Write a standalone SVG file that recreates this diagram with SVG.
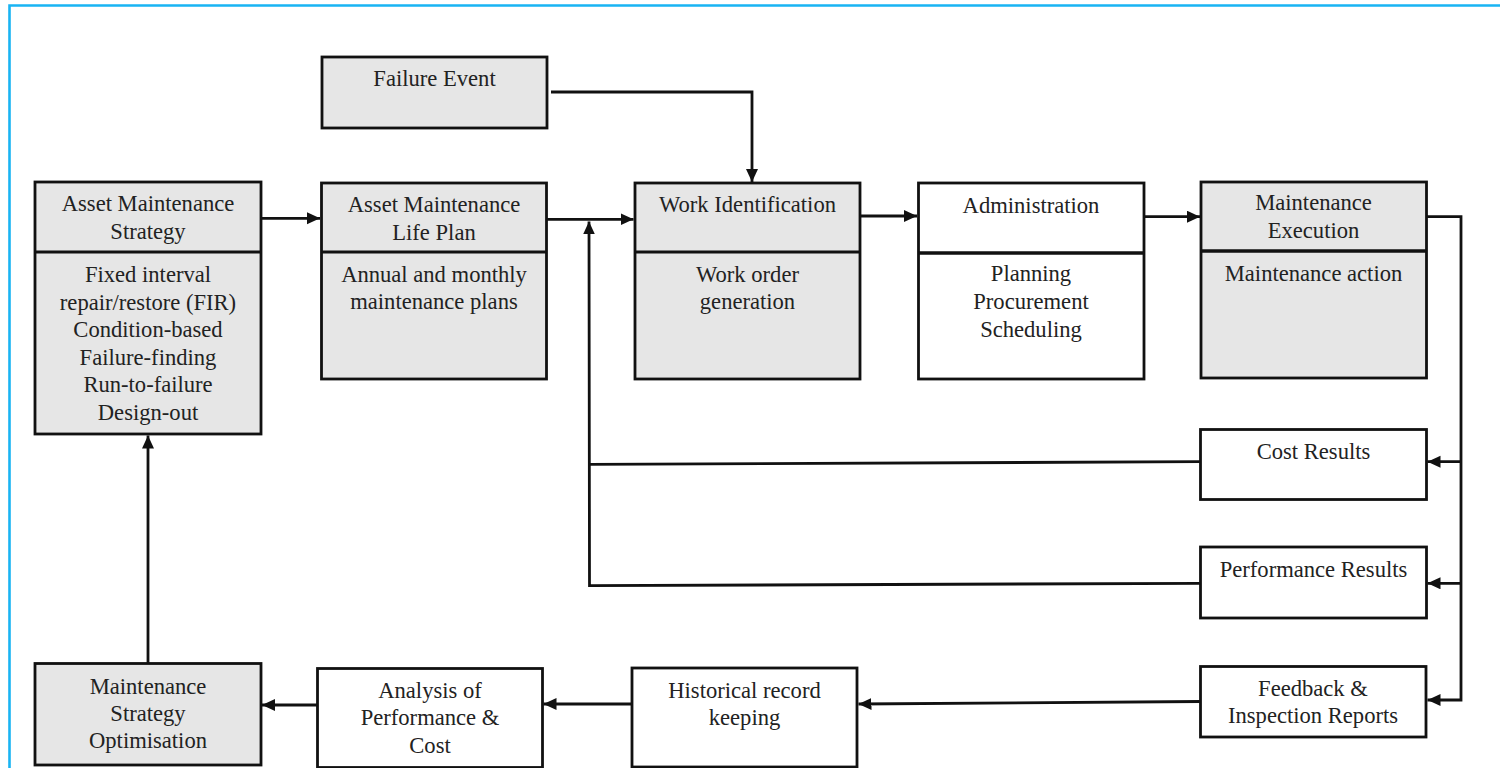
<svg xmlns="http://www.w3.org/2000/svg" width="1500" height="768" viewBox="0 0 1500 768">
<style>
.box{stroke:#111;stroke-width:2.8;}
.g{fill:#e6e6e6;}
.w{fill:#ffffff;}
.div{stroke:#111;stroke-width:3;fill:none;}
.t{font-family:"Liberation Serif","Times New Roman",serif;font-size:22.6px;fill:#222;text-anchor:middle;}
.c{fill:none;stroke:#111;stroke-width:2.8;}
.frame{stroke:#19b4f3;stroke-width:2.6;fill:none;}
</style>
<defs>
<marker id="ah" markerUnits="userSpaceOnUse" markerWidth="15" markerHeight="13" refX="13" refY="6" orient="auto">
<path d="M0,0 L13,6 L0,12 z" fill="#111"/>
</marker>
</defs>
<rect x="0" y="0" width="1500" height="768" fill="#ffffff"/>
<path class="frame" d="M9.5,768 V5.5 H1500"/>

<g id="failure-event">
<rect class="box g" x="322" y="57" width="225" height="71"/>
<text class="t" x="434.5" y="86">Failure Event</text>
</g>

<g id="asset-maintenance-strategy">
<rect class="box g" x="35" y="182" width="226" height="252"/>
<line class="div" x1="35" y1="252" x2="261" y2="252"/>
<text class="t" x="148" y="211">Asset Maintenance</text>
<text class="t" x="148" y="239">Strategy</text>
<text class="t" x="148" y="282">Fixed interval</text>
<text class="t" x="148" y="309.5">repair/restore (FIR)</text>
<text class="t" x="148" y="337">Condition-based</text>
<text class="t" x="148" y="364.5">Failure-finding</text>
<text class="t" x="148" y="392">Run-to-failure</text>
<text class="t" x="148" y="419.5">Design-out</text>
</g>

<g id="asset-maintenance-life-plan">
<rect class="box g" x="321.5" y="183" width="225" height="196"/>
<line class="div" x1="321.5" y1="252" x2="546.5" y2="252"/>
<text class="t" x="434" y="212">Asset Maintenance</text>
<text class="t" x="434" y="240">Life Plan</text>
<text class="t" x="434" y="281.5">Annual and monthly</text>
<text class="t" x="434" y="309">maintenance plans</text>
</g>

<g id="work-identification">
<rect class="box g" x="635" y="183" width="225" height="196"/>
<line class="div" x1="635" y1="252" x2="860" y2="252"/>
<text class="t" x="747.5" y="211.5">Work Identification</text>
<text class="t" x="747.5" y="281.5">Work order</text>
<text class="t" x="747.5" y="309">generation</text>
</g>

<g id="administration">
<rect class="box w" x="918.5" y="183" width="225.5" height="196"/>
<line class="div" x1="918.5" y1="253" x2="1144" y2="253" style="stroke-width:3.6"/>
<text class="t" x="1031" y="213">Administration</text>
<text class="t" x="1031" y="281">Planning</text>
<text class="t" x="1031" y="308.5">Procurement</text>
<text class="t" x="1031" y="336.5">Scheduling</text>
</g>

<g id="maintenance-execution">
<rect class="box g" x="1201" y="182" width="225.5" height="196"/>
<line class="div" x1="1201" y1="251" x2="1426.5" y2="251" style="stroke-width:3.4"/>
<text class="t" x="1313.5" y="210">Maintenance</text>
<text class="t" x="1313.5" y="238">Execution</text>
<text class="t" x="1313.5" y="280.5">Maintenance action</text>
</g>

<g id="cost-results">
<rect class="box w" x="1200.5" y="429.5" width="226" height="70"/>
<text class="t" x="1313.5" y="459">Cost Results</text>
</g>

<g id="performance-results">
<rect class="box w" x="1200.5" y="547" width="226" height="71"/>
<text class="t" x="1313.5" y="576.5">Performance Results</text>
</g>

<g id="feedback-inspection-reports">
<rect class="box w" x="1200.5" y="666.5" width="225.5" height="70.5"/>
<text class="t" x="1313" y="695.5">Feedback &amp;</text>
<text class="t" x="1313" y="722.5">Inspection Reports</text>
</g>

<g id="historical-record-keeping">
<rect class="box w" x="632" y="668" width="225" height="99"/>
<text class="t" x="744.5" y="697.5">Historical record</text>
<text class="t" x="744.5" y="725">keeping</text>
</g>

<g id="analysis-performance-cost">
<rect class="box w" x="317.5" y="668.5" width="225" height="99"/>
<text class="t" x="430" y="697.5">Analysis of</text>
<text class="t" x="430" y="725">Performance &amp;</text>
<text class="t" x="430" y="752.5">Cost</text>
</g>

<g id="maintenance-strategy-optimisation">
<rect class="box g" x="35" y="663.5" width="226" height="101.5"/>
<text class="t" x="148" y="693.5">Maintenance</text>
<text class="t" x="148" y="721">Strategy</text>
<text class="t" x="148" y="748">Optimisation</text>
</g>

<g id="connectors">
<path class="c" d="M261,218.3 H320" marker-end="url(#ah)"/>
<path class="c" d="M546.5,219.3 H633.5" marker-end="url(#ah)"/>
<path class="c" d="M551,92 H752 V182" marker-end="url(#ah)"/>
<path class="c" d="M860,216 H917" marker-end="url(#ah)"/>
<path class="c" d="M1144,216.7 H1200" marker-end="url(#ah)"/>
<path class="c" d="M1426.5,216.7 H1461 V700 H1427.5" marker-end="url(#ah)"/>
<path class="c" d="M1461,461.7 H1427.5" marker-end="url(#ah)"/>
<path class="c" d="M1461,583.3 H1427.5" marker-end="url(#ah)"/>
<path class="c" d="M1200.5,461.7 L589.5,464.3"/>
<path class="c" d="M1200.5,583.3 L589.5,585.7 L589,221.5" marker-end="url(#ah)"/>
<path class="c" d="M1200.5,701.5 L858.5,704" marker-end="url(#ah)"/>
<path class="c" d="M632,704 H543.5" marker-end="url(#ah)"/>
<path class="c" d="M317.5,705 H262" marker-end="url(#ah)"/>
<path class="c" d="M148,663.5 V435.5" marker-end="url(#ah)"/>
</g>
</svg>
